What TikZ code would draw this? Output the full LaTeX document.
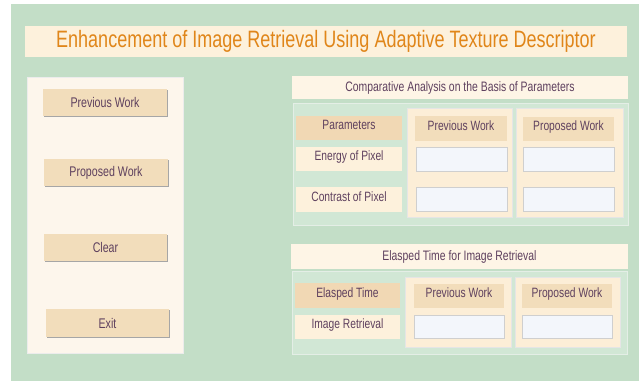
\documentclass[tikz,border=0pt]{standalone}
\usepackage{fontspec}
\setmainfont{Liberation Sans}[FakeStretch=0.76]
\usetikzlibrary{shadows}
\definecolor{bggreen}{HTML}{C3DEC7}
\definecolor{panelgreen}{HTML}{D1E7D5}
\definecolor{panelline}{HTML}{E4EEE6}
\definecolor{cream}{HTML}{FDF1DC}
\definecolor{creamlight}{HTML}{FDF6EC}
\definecolor{tan}{HTML}{F2DDBB}
\definecolor{tandark}{HTML}{F1D8B4}
\definecolor{colfill}{HTML}{FCEED7}
\definecolor{boxfill}{HTML}{F3F6FB}
\definecolor{boxline}{HTML}{CFCFCF}
\definecolor{titleorange}{HTML}{E0861A}
\definecolor{labeltext}{HTML}{5E405E}
\tikzset{
  base/.style={rectangle, inner sep=0pt, outer sep=0pt, font=\fontsize{13.5}{15}\selectfont, text=labeltext},
  titlebar/.style={base, fill=cream, font=\fontsize{23.7}{27}\selectfont, text=titleorange},
  sidepanel/.style={base, fill=creamlight, draw=white!85!gray, line width=0.8pt},
  btn/.style={base, fill=tan, font=\fontsize{14}{16}\selectfont,
    drop shadow={shadow xshift=0.8pt, shadow yshift=-1.2pt, fill=gray!70, opacity=1}},
  sectitle/.style={base, fill=cream!70!white, font=\fontsize{13.7}{15}\selectfont},
  tablepanel/.style={base, fill=panelgreen, draw=panelline, line width=1pt},
  headlabel/.style={base, fill=tandark, text height=9.5pt, text depth=6.5pt},
  rowlabel/.style={base, fill=cream, text height=9.5pt, text depth=6.5pt},
  column/.style={base, fill=colfill, draw=white!80!gray, line width=0.8pt},
  colhead/.style={base, fill=tan, text height=9.5pt, text depth=6.5pt},
  entry/.style={base, fill=boxfill, draw=boxline, line width=0.8pt},
}
\begin{document}
\begin{tikzpicture}[x=1pt,y=-1pt]
\useasboundingbox (0,0) rectangle (639,381);
\fill[white] (0,0) rectangle (639,381);
\fill[bggreen] (11,4) rectangle (639,381);

% heading
\node[titlebar, minimum width=602pt, minimum height=31pt] (title) at (326,41.5)
  {Enhancement of Image Retrieval Using Adaptive Texture Descriptor};

% command panel
\node[sidepanel, minimum width=156pt, minimum height=276pt] (side) at (105,215) {};
\node[btn, minimum width=124pt, minimum height=27pt] (bprev) at (105,102.5) {Previous Work};
\node[btn, minimum width=124pt, minimum height=27pt] (bprop) at (106,172.5) {Proposed Work};
\node[btn, minimum width=123pt, minimum height=27pt] (bclear) at (105.5,247.5) {Clear};
\node[btn, minimum width=123pt, minimum height=28pt] (bexit) at (107.5,323) {Exit};

% parameter comparison
\node[sectitle, minimum width=336pt, minimum height=23pt] (cmptitle) at (460,87.5)
  {Comparative Analysis on the Basis of Parameters};
\node[tablepanel, minimum width=335pt, minimum height=122pt] (cmppanel) at (460.5,164) {};
\node[headlabel, minimum width=106pt, minimum height=24pt] (lparam) at (349,128) {Parameters};
\node[rowlabel, minimum width=106pt, minimum height=24pt] (lenergy) at (349,159) {Energy of Pixel};
\node[rowlabel, minimum width=106pt, minimum height=25pt] (lcontrast) at (349,199.5) {Contrast of Pixel};
\node[column, minimum width=105pt, minimum height=109pt] (cprev) at (459.5,162.5) {};
\node[colhead, minimum width=92pt, minimum height=25pt] (hprev) at (461,128.5) {Previous Work};
\node[entry, minimum width=91pt, minimum height=24pt] (eprev1) at (461.5,159) {};
\node[entry, minimum width=91pt, minimum height=24pt] (eprev2) at (461.5,199) {};
\node[column, minimum width=107pt, minimum height=109pt] (cprop) at (569.5,162.5) {};
\node[colhead, minimum width=91pt, minimum height=24pt] (hprop) at (568.5,128.5) {Proposed Work};
\node[entry, minimum width=91pt, minimum height=24pt] (eprop1) at (568.5,159) {};
\node[entry, minimum width=91pt, minimum height=24pt] (eprop2) at (568.5,199) {};

% elapsed time
\node[sectitle, minimum width=337pt, minimum height=25pt] (ettitle) at (459.5,256.5)
  {Elasped Time for Image Retrieval};
\node[tablepanel, minimum width=335pt, minimum height=83pt] (etpanel) at (459.5,312.5) {};
\node[headlabel, minimum width=105pt, minimum height=25pt] (ltime) at (347.5,295.5) {Elasped Time};
\node[rowlabel, minimum width=105pt, minimum height=24pt] (lret) at (347.5,327) {Image Retrieval};
\node[column, minimum width=106pt, minimum height=70pt] (tprev) at (458,312) {};
\node[colhead, minimum width=90pt, minimum height=24pt] (thprev) at (459,296) {Previous Work};
\node[entry, minimum width=90pt, minimum height=23pt] (teprev) at (459,326.5) {};
\node[column, minimum width=105pt, minimum height=70pt] (tprop) at (567.5,312) {};
\node[colhead, minimum width=90pt, minimum height=24pt] (thprop) at (567,296) {Proposed Work};
\node[entry, minimum width=90pt, minimum height=23pt] (teprop) at (567,326.5) {};
\end{tikzpicture}
\end{document}
